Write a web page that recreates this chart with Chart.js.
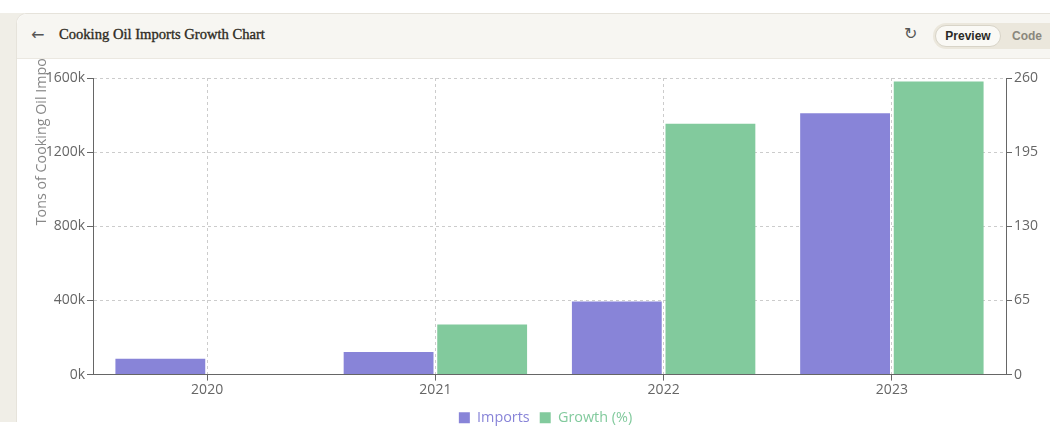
<!DOCTYPE html>
<html>
<head>
<meta charset="utf-8">
<script src="https://cdn.jsdelivr.net/npm/chart.js@4.4.0/dist/chart.umd.min.js"></script>
<style>
  html, body { margin: 0; padding: 0; background: #fff; width: 1050px; height: 435px; overflow: hidden; }
  .strip { position: absolute; left: 0; top: 13px; width: 24px; height: 409px; background: #f0eee7; }
  .panel { position: absolute; left: 16px; top: 13px; width: 1050px; height: 409px; background: #fff;
           border: 1px solid #e6e3db; border-bottom: none; border-radius: 10px 0 0 0; box-sizing: border-box; }
  .header { position: absolute; left: 0; top: 0; right: 0; height: 44px; background: #f7f6f2;
            border-bottom: 1px solid #ebe8e1; border-radius: 10px 0 0 0; }
  .back { position: absolute; left: 14px; top: 11px; font: 16px "DejaVu Sans", sans-serif; color: #555; }
  .title { position: absolute; left: 42px; top: 12px; font: 14.6px "Liberation Serif", serif; color: #2f2c24;
           -webkit-text-stroke: 0.35px #2f2c24; }
  .refresh { position: absolute; left: 887px; top: 10px; font: 16px "DejaVu Sans", sans-serif; color: #555; }
  .toggle { position: absolute; left: 916px; top: 9px; width: 140px; height: 26px; background: #ebe7dc; border-radius: 13px; }
  .toggle .on { position: absolute; left: 2px; top: 2px; width: 64px; height: 20px; background: #faf9f5;
                border: 1px solid #d8d4c8; border-radius: 11px; font: bold 12px "Liberation Sans", sans-serif;
                color: #2b2a26; text-align: center; line-height: 20px; }
  .toggle .off { position: absolute; left: 79px; top: 3px; font: bold 12px "Liberation Sans", sans-serif; color: #8a877d; line-height: 20px; }
  #chart { position: absolute; left: 16px; top: 57px; }
</style>
</head>
<body>
<div class="strip"></div>
<div class="panel">
  <div class="header">
    <div class="back">&#8592;</div>
    <div class="title">Cooking Oil Imports Growth Chart</div>
    <div class="refresh">&#8635;</div>
    <div class="toggle"><div class="on">Preview</div><div class="off">Code</div></div>
  </div>
</div>
<canvas id="chart" width="1034" height="378"></canvas>
<script>
const years = ['2020', '2021', '2022', '2023'];
const imports = [85000, 122000, 395000, 1410000];
const growth = [0, 44, 220, 257];
const leftTicks = [0, 400000, 800000, 1200000, 1600000];
const rightTicks = [0, 65, 130, 195, 260];

Chart.defaults.font.family = '"Open Sans", sans-serif';
Chart.defaults.font.size = 14;
Chart.defaults.color = '#666';

// rotated axis label, anchored at the middle of the axis like the original
const axisLabel = {
    id: 'axisLabel',
    afterDraw(chart) {
        const { ctx, chartArea } = chart;
        const midY = (chartArea.top + chartArea.bottom) / 2;
        ctx.save();
        ctx.translate(26, midY - 1);
        ctx.rotate(-Math.PI / 2);
        ctx.font = '14.3px "Open Sans", sans-serif';
        ctx.fillStyle = '#888';
        ctx.textAlign = 'left';
        ctx.textBaseline = 'middle';
        ctx.fillText('Tons of Cooking Oil Imports', 0, 0);
        ctx.restore();
    }
};

new Chart(document.getElementById('chart'), {
    type: 'bar',
    data: {
        labels: years,
        datasets: [
            {
                label: 'Imports',
                data: imports,
                backgroundColor: '#8884d8',
                borderWidth: 0,
                yAxisID: 'y',
                categoryPercentage: 0.82,
                barPercentage: 0.96
            },
            {
                label: 'Growth (%)',
                data: growth,
                backgroundColor: '#82ca9d',
                borderWidth: 0,
                yAxisID: 'y1',
                categoryPercentage: 0.82,
                barPercentage: 0.96
            }
        ]
    },
    options: {
        responsive: false,
        animation: false,
        layout: { padding: { top: 21, left: 25, right: 0, bottom: 0 } },
        plugins: {
            tooltip: { enabled: false },
            legend: {
                position: 'bottom',
                labels: {
                    boxWidth: 11,
                    boxHeight: 11,
                    padding: 10,
                    font: { size: 14.4 },
                    generateLabels(chart) {
                        const items = Chart.defaults.plugins.legend.labels.generateLabels(chart);
                        items.forEach(it => { it.fontColor = chart.data.datasets[it.datasetIndex].backgroundColor; });
                        return items;
                    }
                }
            }
        },
        scales: {
            x: {
                offset: true,
                grid: { offset: false, color: '#ccc', tickLength: 6, tickColor: '#666', tickBorderDash: [] },
                border: { display: true, color: '#666', dash: [3, 3] },
                ticks: { padding: 1, color: '#666' },
                afterFit(scale) { scale.height = 26; }
            },
            y: {
                position: 'left',
                min: 0,
                max: 1600000,
                afterBuildTicks(scale) { scale.ticks = leftTicks.map(v => ({ value: v })); },
                grid: { color: '#ccc', tickLength: 6, tickColor: '#666', tickBorderDash: [] },
                border: { display: true, color: '#666', dash: [3, 3] },
                ticks: { padding: 2, color: '#666', callback: v => (v / 1000) + 'k' },
                afterFit(scale) { scale.width = 52; }
            },
            y1: {
                position: 'right',
                min: 0,
                max: 260,
                afterBuildTicks(scale) { scale.ticks = rightTicks.map(v => ({ value: v })); },
                grid: { drawOnChartArea: false, tickLength: 6, tickColor: '#666' },
                border: { display: true, color: '#666' },
                ticks: { padding: 2, color: '#666' },
                afterFit(scale) { scale.width = 44; }
            }
        }
    },
    plugins: [axisLabel]
});
</script>
</body>
</html>
